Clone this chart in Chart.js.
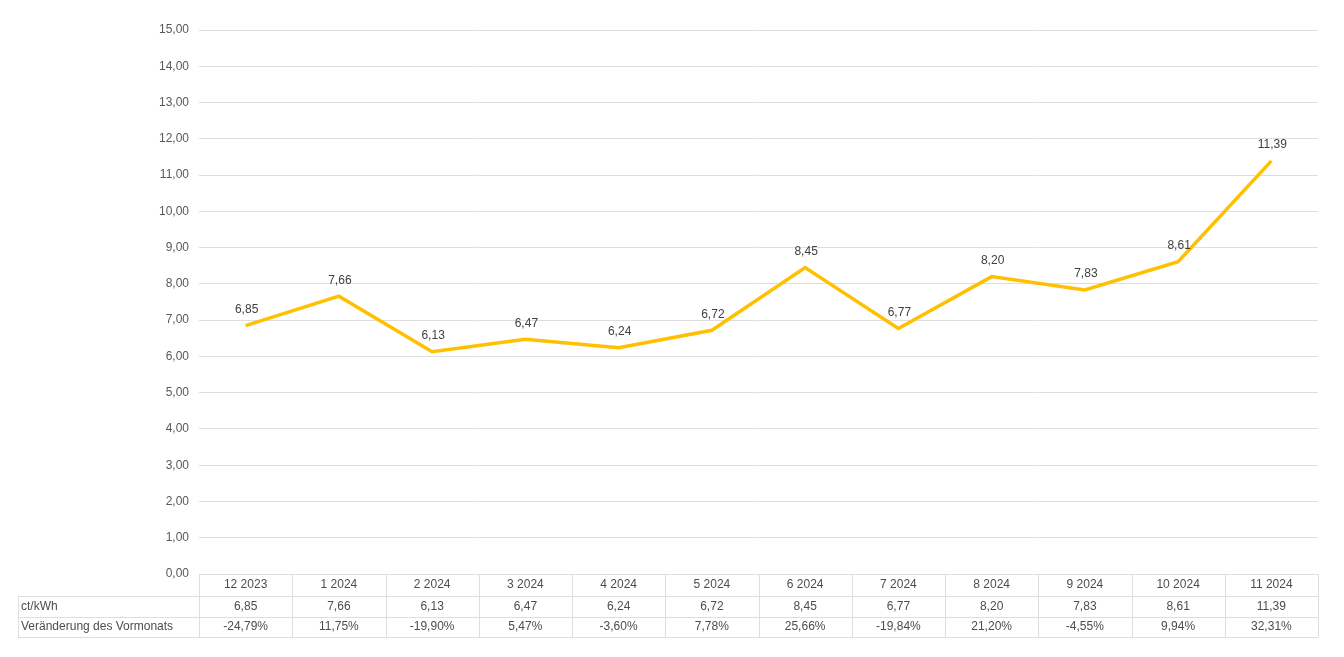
<!DOCTYPE html>
<html>
<head>
<meta charset="utf-8">
<script src="https://cdn.jsdelivr.net/npm/chart.js@4"></script>
<style>
  html, body { margin: 0; padding: 0; background: #fff; }
  #wrap { width: 1344px; height: 657px; }
</style>
</head>
<body>
<div id="wrap"><canvas id="priceChart" width="1344" height="657"></canvas></div>
<script>
const months = ['12 2023', '1 2024', '2 2024', '3 2024', '4 2024', '5 2024', '6 2024', '7 2024', '8 2024', '9 2024', '10 2024', '11 2024'];
const prices = [6.85, 7.66, 6.13, 6.47, 6.24, 6.72, 8.45, 6.77, 8.20, 7.83, 8.61, 11.39];
const changes = [-24.79, 11.75, -19.90, 5.47, -3.60, 7.78, 25.66, -19.84, 21.20, -4.55, 9.94, 32.31];
const rowNames = ['ct/kWh', 'Veränderung des Vormonats'];

const fontFamily = '"Liberation Sans", Arial, sans-serif';
const fmt = v => v.toFixed(2).replace('.', ',');

// value labels above the line
const valueLabels = {
    id: 'valueLabels',
    afterDatasetsDraw(chart) {
        const ctx = chart.ctx;
        const meta = chart.getDatasetMeta(0);
        ctx.save();
        ctx.font = '12px ' + fontFamily;
        ctx.fillStyle = '#404040';
        ctx.textAlign = 'center';
        ctx.textBaseline = 'middle';
        meta.data.forEach((pt, i) => {
            ctx.fillText(fmt(prices[i]), pt.x + 1, pt.y - 16);
        });
        ctx.restore();
    }
};

// data table under the plot
const dataTable = {
    id: 'dataTable',
    afterDraw(chart) {
        const ctx = chart.ctx;
        const x = chart.scales.x;
        const area = chart.chartArea;
        const colW = x.width / months.length;
        const top = area.bottom;
        const rowH = [22, 21, 20];
        const tableLeft = 18;
        ctx.save();
        ctx.strokeStyle = '#dedede';
        ctx.lineWidth = 1;
        ctx.font = '12px ' + fontFamily;
        ctx.fillStyle = '#4d4d4d';
        ctx.textBaseline = 'middle';

        const y0 = top, y1 = top + rowH[0], y2 = y1 + rowH[1], y3 = y2 + rowH[2];
        ctx.beginPath();
        ctx.moveTo(area.left, y0 + 0.5); ctx.lineTo(area.right, y0 + 0.5);
        ctx.moveTo(tableLeft, y1 + 0.5); ctx.lineTo(area.right, y1 + 0.5);
        ctx.moveTo(tableLeft, y2 + 0.5); ctx.lineTo(area.right, y2 + 0.5);
        ctx.moveTo(tableLeft, y3 + 0.5); ctx.lineTo(area.right, y3 + 0.5);
        ctx.moveTo(tableLeft + 0.5, y1); ctx.lineTo(tableLeft + 0.5, y3);
        for (let i = 0; i <= months.length; i++) {
            const lx = Math.round(area.left + i * colW) + 0.5;
            ctx.moveTo(lx, y0); ctx.lineTo(lx, y3);
        }
        ctx.stroke();

        ctx.textAlign = 'left';
        ctx.fillText(rowNames[0], tableLeft + 3, (y1 + y2) / 2);
        ctx.fillText(rowNames[1], tableLeft + 3, (y2 + y3) / 2);

        ctx.textAlign = 'center';
        months.forEach((m, i) => {
            const cx = x.getPixelForValue(i);
            ctx.fillText(m, cx, (y0 + y1) / 2);
            ctx.fillText(fmt(prices[i]), cx, (y1 + y2) / 2);
            ctx.fillText(fmt(changes[i]) + '%', cx, (y2 + y3) / 2);
        });
        ctx.restore();
    }
};

const ctx = document.getElementById('priceChart').getContext('2d');
new Chart(ctx, {
    type: 'line',
    data: {
        labels: months,
        datasets: [{
            label: 'ct/kWh',
            data: prices,
            borderColor: '#ffc000',
            backgroundColor: '#ffc000',
            borderWidth: 3.5,
            pointRadius: 0,
            tension: 0
        }]
    },
    options: {
        responsive: false,
        animation: false,
        layout: { padding: { top: 30, bottom: 83, left: 0, right: 26 } },
        plugins: {
            legend: { display: false },
            tooltip: { enabled: false }
        },
        scales: {
            x: {
                offset: true,
                display: false
            },
            y: {
                min: 0,
                max: 15,
                afterFit(scale) { scale.width = 199; },
                ticks: {
                    stepSize: 1,
                    padding: 10,
                    color: '#595959',
                    font: { family: fontFamily, size: 12 },
                    callback: v => fmt(v)
                },
                grid: { color: '#dedede', drawTicks: false },
                border: { display: false }
            }
        }
    },
    plugins: [valueLabels, dataTable]
});
</script>
</body>
</html>
